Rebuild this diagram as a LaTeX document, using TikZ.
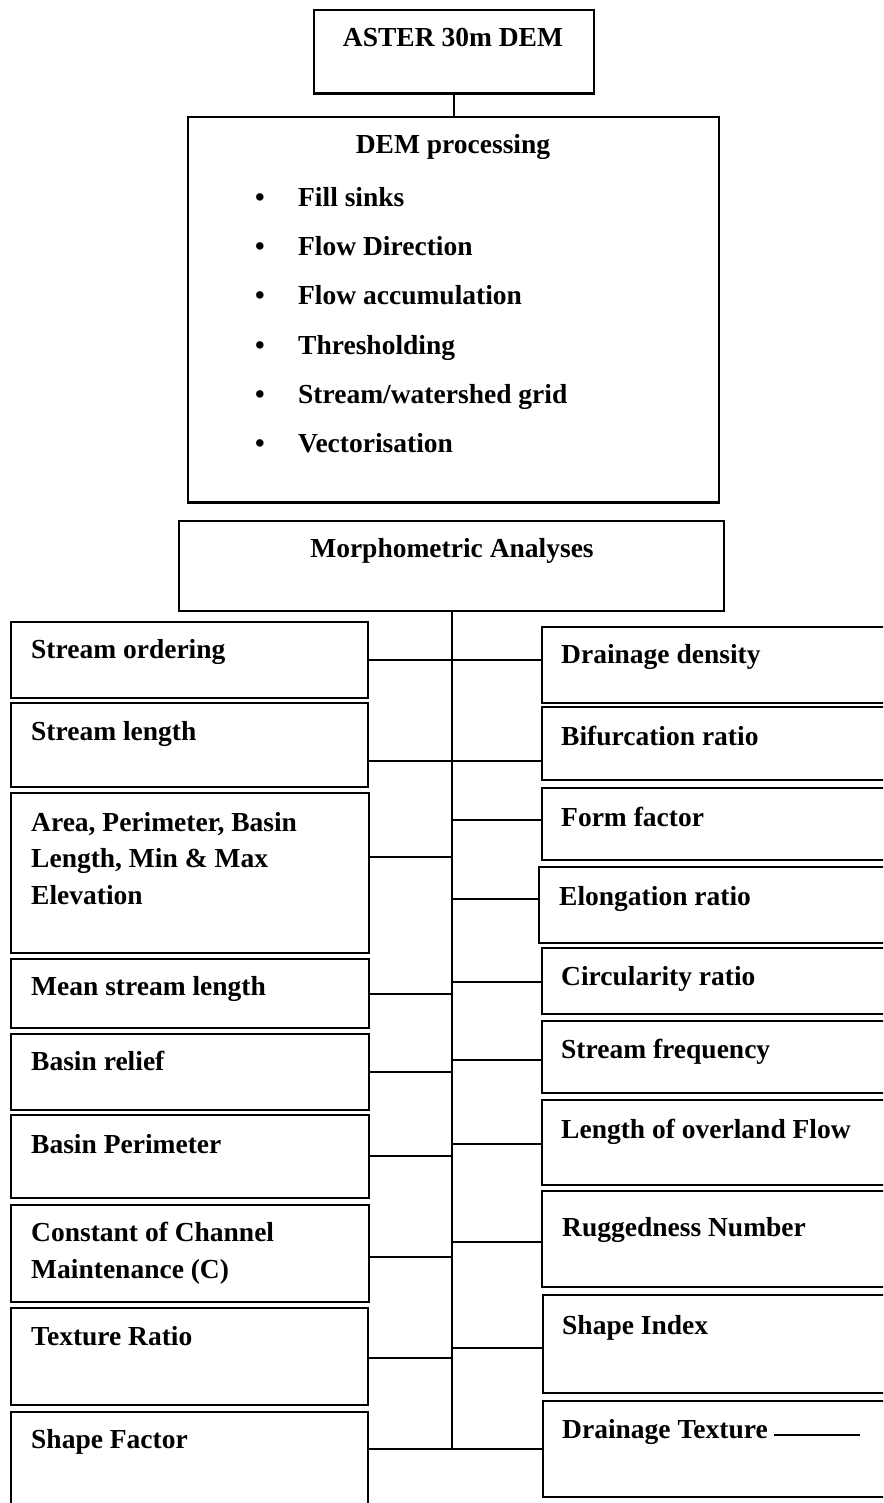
\documentclass[tikz,border=0pt]{standalone}
\usepackage{fontspec}
\setmainfont{Liberation Serif}
\newcommand\bx[5]{\node[box, minimum width=#4pt, minimum height=#5pt] (#1) at (#2,#3) {};}
\begin{document}
\begin{tikzpicture}[x=1pt,y=-1pt,
  box/.style={draw, line width=2.5pt, rectangle, inner sep=0pt, outer sep=0pt, anchor=north west},
  conn/.style={line width=2pt},
  txt/.style={font=\bfseries\fontsize{27.5}{33}\selectfont, inner sep=0pt, anchor=base west},
  ctxt/.style={txt, anchor=base},
  bul/.style={txt}]
\clip (0,0) rectangle (883,1503);
% top boxes
\bx{aster}{314}{10}{280}{83.5}
\bx{dem}{188}{117}{531}{385.5}
\bx{morph}{179}{521}{545}{90}
% left column
\bx{lb1}{11}{622}{357}{76}
\bx{lb2}{11}{703}{357}{84}
\bx{lb3}{11}{793}{358}{160}
\bx{lb4}{11}{959}{358}{69}
\bx{lb5}{11}{1034}{358}{76}
\bx{lb6}{11}{1115}{358}{83}
\bx{lb7}{11}{1205}{358}{97}
\bx{lb8}{11}{1308}{357}{97}
\bx{lb9}{11}{1412}{357}{110}
% right column
\bx{rb1}{542}{627}{360}{76}
\bx{rb2}{542}{707}{360}{73}
\bx{rb3}{542}{788}{360}{72}
\bx{rb4}{539}{867}{363}{76}
\bx{rb5}{542}{948}{360}{66}
\bx{rb6}{542}{1021}{360}{72}
\bx{rb7}{542}{1100}{360}{85}
\bx{rb8}{542}{1191}{360}{96}
\bx{rb9}{543}{1295}{359}{98}
\bx{rb10}{543}{1401}{359}{96}
% texts
\node[ctxt] (tAster) at (453,46.5) {ASTER 30m DEM};
\node[ctxt] (tDem) at (453,154) {DEM processing};
\node[bul] (i1) at (255,207) {\makebox[43pt][l]{\textbullet}Fill sinks};
\node[bul] (i2) at (255,256) {\makebox[43pt][l]{\textbullet}Flow Direction};
\node[bul] (i3) at (255,305) {\makebox[43pt][l]{\textbullet}Flow accumulation};
\node[bul] (i4) at (255,354) {\makebox[43pt][l]{\textbullet}Thresholding};
\node[bul] (i5) at (255,403) {\makebox[43pt][l]{\textbullet}Stream/watershed grid};
\node[bul] (i6) at (255,452) {\makebox[43pt][l]{\textbullet}Vectorisation};
\node[ctxt] (tMorph) at (452,557) {Morphometric Analyses};
\node[txt] (tl1) at (31,658) {Stream ordering};
\node[txt] (tl2) at (31,740) {Stream length};
\node[txt] (tl3a) at (31,831) {Area, Perimeter, Basin};
\node[txt] (tl3b) at (31,867) {Length, Min \& Max};
\node[txt] (tl3c) at (31,904) {Elevation};
\node[txt] (tl4) at (31,995) {Mean stream length};
\node[txt] (tl5) at (31,1070) {Basin relief};
\node[txt] (tl6) at (31,1153) {Basin Perimeter};
\node[txt] (tl7a) at (31,1241) {Constant of Channel};
\node[txt] (tl7b) at (31,1278) {Maintenance (C)};
\node[txt] (tl8) at (31,1345) {Texture Ratio};
\node[txt] (tl9) at (31,1448) {Shape Factor};
\node[txt] (tr1) at (561,663) {Drainage density};
\node[txt] (tr2) at (561,745) {Bifurcation ratio};
\node[txt] (tr3) at (561,826) {Form factor};
\node[txt] (tr4) at (559,905) {Elongation ratio};
\node[txt] (tr5) at (561,985) {Circularity ratio};
\node[txt] (tr6) at (561,1058) {Stream frequency};
\node[txt] (tr7) at (561,1138) {Length of overland Flow};
\node[txt] (tr8) at (562,1236) {Ruggedness Number};
\node[txt] (tr9) at (562,1334) {Shape Index};
\node[txt] (tr10) at (562,1438) {Drainage Texture};
% connector points
\coordinate (c1) at ([yshift=-38pt]lb1.north east);
\coordinate (c2) at ([yshift=-58pt]lb2.north east);
\coordinate (c3) at ([yshift=-64pt]lb3.north east);
\coordinate (c4) at ([yshift=-35pt]lb4.north east);
\coordinate (c5) at ([yshift=-38pt]lb5.north east);
\coordinate (c6) at ([yshift=-41pt]lb6.north east);
\coordinate (c7) at ([yshift=-52pt]lb7.north east);
\coordinate (c8) at ([yshift=-50pt]lb8.north east);
\coordinate (c9) at ([yshift=-37pt]lb9.north east);
\coordinate (d3) at ([yshift=-32pt]rb3.north west);
\coordinate (d4) at ([yshift=-32pt]rb4.north west);
\coordinate (d5) at ([yshift=-34pt]rb5.north west);
\coordinate (d6) at ([yshift=-39pt]rb6.north west);
\coordinate (d7) at ([yshift=-44pt]rb7.north west);
\coordinate (d8) at ([yshift=-51pt]rb8.north west);
\coordinate (d9) at ([yshift=-53pt]rb9.north west);
% connectors
\draw[conn] (aster.south) -- (aster.south |- dem.north);
\draw[conn] (morph.south) -- (morph.south |- c9);
\draw[conn] (c1) -- (c1 -| rb1.west);
\draw[conn] (c2) -- (c2 -| rb2.west);
\draw[conn] (c9) -- (c9 -| rb10.west);
\foreach \c in {c3,c4,c5,c6,c7,c8}
  \draw[conn] (\c) -- (\c -| morph.south);
\foreach \d in {d3,d4,d5,d6,d7,d8,d9}
  \draw[conn] (\d -| morph.south) -- (\d);
\coordinate (dtEnd) at ([xshift=92pt,yshift=3pt]tr10.base east);
\draw[conn] ([xshift=6pt,yshift=3pt]tr10.base east) -- (dtEnd);
\end{tikzpicture}
\end{document}
